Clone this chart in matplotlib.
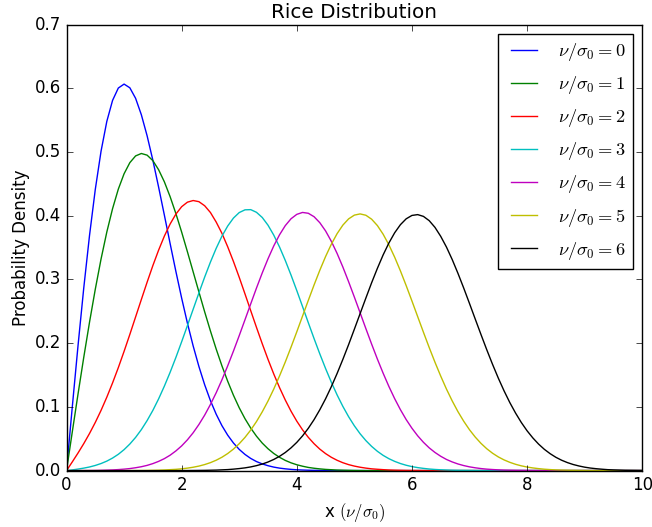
import matplotlib
matplotlib.use("Agg")
import matplotlib.pyplot as plt

# x grid (every 0.1 from 0 to 10)
x = [i / 10 for i in range(101)]

# probability density for each nu/sigma_0
nu0 = [0, 0.0995, 0.1960, 0.2868, 0.3692, 0.4412, 0.5012, 0.5479, 0.5809, 0.6003,
       0.6065, 0.6007, 0.5842, 0.5584, 0.5254, 0.4870, 0.4448, 0.4008, 0.3562, 0.3125,
       0.2707, 0.2315, 0.1956, 0.1633, 0.1347, 0.1098, 0.0885, 0.0705, 0.0556, 0.0433,
       0.0333, 0.0254, 0.0191, 0.0142, 0.0105, 0.0077, 0.0055, 0.0039, 0.0028, 0.0019,
       0.0013, 0.0009, 0.0006, 0.0004, 0.0003, 0.0002, 0.0001, 0.0001] + [0] * 53
nu1 = [0, 0.0605, 0.1201, 0.1779, 0.2330, 0.2846, 0.3320, 0.3743, 0.4110, 0.4417,
       0.4658, 0.4832, 0.4938, 0.4976, 0.4950, 0.4864, 0.4721, 0.4531, 0.4298, 0.4033,
       0.3743, 0.3435, 0.3119, 0.2803, 0.2491, 0.2191, 0.1907, 0.1643, 0.1402, 0.1182,
       0.0986, 0.0815, 0.0667, 0.0540, 0.0432, 0.0343, 0.0269, 0.0209, 0.0160, 0.0122,
       0.0092, 0.0069, 0.0050, 0.0037, 0.0027, 0.0019, 0.0014, 0.0009, 0.0007, 0.0005,
       0.0003, 0.0002, 0.0001, 0.0001] + [0] * 47
nu2 = [0, 0.0136, 0.0276, 0.0424, 0.0583, 0.0756, 0.0945, 0.1152, 0.1376, 0.1616,
       0.1871, 0.2137, 0.2411, 0.2685, 0.2956, 0.3217, 0.3460, 0.3680, 0.3870, 0.4025,
       0.4141, 0.4212, 0.4238, 0.4220, 0.4156, 0.4050, 0.3900, 0.3723, 0.3512, 0.3281,
       0.3033, 0.2773, 0.2509, 0.2247, 0.1991, 0.1746, 0.1516, 0.1303, 0.1108, 0.0932,
       0.0776, 0.0640, 0.0522, 0.0422, 0.0337, 0.0267, 0.0209, 0.0162, 0.0124, 0.0094,
       0.0071, 0.0053, 0.0039, 0.0028, 0.0021, 0.0015, 0.0010, 0.0007, 0.0005, 0.0003,
       0.0002, 0.0002, 0.0001, 0.0001] + [0] * 37
nu3 = [0, 0.0011, 0.0024, 0.0039, 0.0057, 0.0081, 0.0111, 0.0149, 0.0197, 0.0256,
       0.0329, 0.0417, 0.0521, 0.0643, 0.0785, 0.0945, 0.1126, 0.1326, 0.1543, 0.1776,
       0.2022, 0.2275, 0.2532, 0.2788, 0.3037, 0.3272, 0.3488, 0.3679, 0.3838, 0.3963,
       0.4049, 0.4092, 0.4095, 0.4053, 0.3972, 0.3851, 0.3695, 0.3509, 0.3298, 0.3068,
       0.2825, 0.2574, 0.2321, 0.2072, 0.1831, 0.1602, 0.1387, 0.1188, 0.1008, 0.0846,
       0.0703, 0.0578, 0.0471, 0.0380, 0.0303, 0.0239, 0.0187, 0.0145, 0.0111, 0.0084,
       0.0063, 0.0047, 0.0035, 0.0025, 0.0018, 0.0013, 0.0009, 0.0006, 0.0004, 0.0003,
       0.0002, 0.0001, 0.0001] + [0] * 28
nu4 = [0, 0, 0.0001, 0.0001, 0.0002, 0.0003, 0.0005, 0.0008, 0.0011, 0.0016,
       0.0023, 0.0032, 0.0045, 0.0061, 0.0082, 0.0110, 0.0145, 0.0188, 0.0242, 0.0309,
       0.0388, 0.0483, 0.0594, 0.0724, 0.0871, 0.1038, 0.1222, 0.1425, 0.1644, 0.1876,
       0.2118, 0.2367, 0.2617, 0.2865, 0.3102, 0.3324, 0.3526, 0.3700, 0.3844, 0.3952,
       0.4021, 0.4051, 0.4038, 0.3984, 0.3890, 0.3761, 0.3598, 0.3408, 0.3195, 0.2964,
       0.2723, 0.2476, 0.2228, 0.1985, 0.1750, 0.1528, 0.1320, 0.1129, 0.0956, 0.0801,
       0.0665, 0.0546, 0.0444, 0.0357, 0.0285, 0.0225, 0.0175, 0.0136, 0.0104, 0.0079,
       0.0059, 0.0044, 0.0032, 0.0023, 0.0017, 0.0012, 0.0008, 0.0006, 0.0004, 0.0003,
       0.0002, 0.0001, 0.0001] + [0] * 18
nu5 = [0, 0, 0, 0, 0, 0, 0, 0, 0, 0,
       0.0001, 0.0001, 0.0001, 0.0002, 0.0003, 0.0005, 0.0007, 0.0010, 0.0015, 0.0020,
       0.0028, 0.0039, 0.0053, 0.0071, 0.0095, 0.0125, 0.0163, 0.0210, 0.0268, 0.0338,
       0.0422, 0.0521, 0.0637, 0.0770, 0.0922, 0.1092, 0.1280, 0.1485, 0.1704, 0.1937,
       0.2178, 0.2425, 0.2671, 0.2913, 0.3144, 0.3359, 0.3552, 0.3718, 0.3852, 0.3950,
       0.4009, 0.4028, 0.4007, 0.3945, 0.3845, 0.3709, 0.3542, 0.3349, 0.3134, 0.2903,
       0.2662, 0.2416, 0.2171, 0.1931, 0.1701, 0.1483, 0.1279, 0.1093, 0.0924, 0.0774,
       0.0641, 0.0526, 0.0427, 0.0343, 0.0273, 0.0215, 0.0168, 0.0130, 0.0099, 0.0075,
       0.0056, 0.0042, 0.0031, 0.0022, 0.0016, 0.0011, 0.0008, 0.0006, 0.0004, 0.0003,
       0.0002, 0.0001, 0.0001] + [0] * 8
nu6 = [0] * 20 + [
       0.0001, 0.0001, 0.0002, 0.0003, 0.0004, 0.0006, 0.0008, 0.0012, 0.0016, 0.0023,
       0.0032, 0.0043, 0.0058, 0.0078, 0.0103, 0.0135, 0.0175, 0.0224, 0.0284, 0.0357,
       0.0443, 0.0545, 0.0664, 0.0800, 0.0955, 0.1127, 0.1317, 0.1524, 0.1745, 0.1977,
       0.2219, 0.2464, 0.2708, 0.2948, 0.3174, 0.3385, 0.3572, 0.3732, 0.3859, 0.3951,
       0.4004, 0.4017, 0.3989, 0.3922, 0.3817, 0.3676, 0.3507, 0.3311, 0.3094, 0.2863,
       0.2622, 0.2377, 0.2134, 0.1896, 0.1668, 0.1452, 0.1252, 0.1068, 0.0903, 0.0755,
       0.0625, 0.0513, 0.0416, 0.0334, 0.0266, 0.0209, 0.0163, 0.0126, 0.0096, 0.0073,
       0.0054, 0.0040, 0.0030, 0.0022, 0.0015, 0.0011, 0.0008, 0.0005, 0.0004, 0.0003,
       0.0002]

curves = [nu0, nu1, nu2, nu3, nu4, nu5, nu6]
labels = [r'$\nu/\sigma_0 = %d$' % k for k in range(7)]

plt.style.use('classic')
fig = plt.figure(figsize=(6.52, 5.27), dpi=100)
ax = fig.add_subplot(111)
fig.subplots_adjust(left=0.102, right=0.985, top=0.9535, bottom=0.107)

for y, lab in zip(curves, labels):
    ax.plot(x, y, label=lab)

ax.set_xlim(0, 10)
ax.set_ylim(0, 0.7)
ax.set_title('Rice Distribution')
ax.set_xlabel(r'x $(\nu/\sigma_0)$')
ax.set_ylabel('Probability Density', labelpad=3.5)
ax.legend(loc='upper right', fontsize=13.3, labelspacing=0.6)

fig.savefig('out.png', dpi=100)
